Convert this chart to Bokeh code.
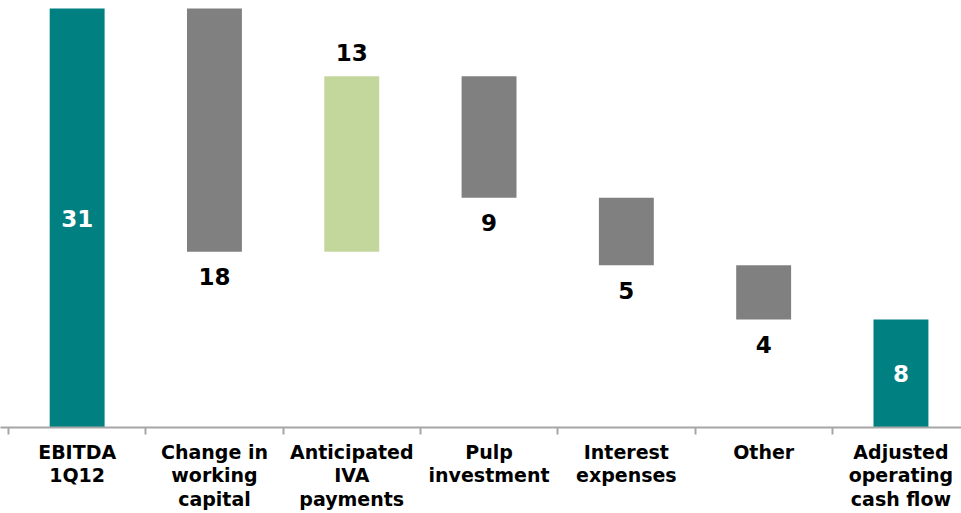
from bokeh.plotting import figure
from bokeh.models import Range1d, FixedTicker, ColumnDataSource
from bokeh.core.properties import value
from bokeh.embed import file_html
from bokeh.resources import INLINE

# Bridge from EBITDA to adjusted operating cash flow
categories = [
    "EBITDA\n1Q12",
    "Change in\nworking\ncapital",
    "Anticipated\nIVA\npayments",
    "Pulp\ninvestment",
    "Interest\nexpenses",
    "Other",
    "Adjusted\noperating\ncash flow",
]
steps = [31, -18, 13, -9, -5, -4]
closing_total = 8
value_labels = ["31", "18", "13", "9", "5", "4", "8"]

TEAL = "#008080"
GREY = "#808080"
GREEN = "#C3D69B"

# Build floating bar extents from the running sum
bottoms, tops, colors = [], [], []
label_y, label_off, label_color = [], [], []
running = 0
for i, s in enumerate(steps):
    start, end = running, running + s
    running = end
    if i == 0:
        bottoms.append(0); tops.append(end); colors.append(TEAL)
        label_y.append(end / 2); label_off.append(0); label_color.append("white")
    elif s < 0:
        bottoms.append(end); tops.append(start); colors.append(GREY)
        label_y.append(end); label_off.append(25); label_color.append("black")
    else:
        bottoms.append(start); tops.append(end); colors.append(GREEN)
        label_y.append(end); label_off.append(-24); label_color.append("black")
bottoms.append(0); tops.append(closing_total); colors.append(TEAL)
label_y.append(closing_total / 2); label_off.append(0); label_color.append("white")

xs = [i + 0.5 for i in range(len(categories))]

bars = ColumnDataSource(dict(x=xs, bottom=bottoms, top=tops, color=colors))
labels = ColumnDataSource(dict(x=xs, y=label_y, text=value_labels,
                               off=label_off, color=label_color))

p = figure(width=961, height=513, output_backend="svg", toolbar_location=None,
           x_range=Range1d(-8 / 137.3, (961 - 8) / 137.3),
           y_range=Range1d(0, 31.6),
           y_axis_location=None,
           min_border_left=0, min_border_right=0, min_border_top=0, min_border_bottom=0)
p.outline_line_color = None
p.grid.visible = False
p.background_fill_color = "white"

p.vbar(x="x", bottom="bottom", top="top", width=0.4, fill_color="color",
       line_color=None, source=bars)

p.text(x="x", y="y", text="text", y_offset="off", text_color="color",
       text_align="center", text_baseline="middle",
       text_font=value("DejaVu Sans"), text_font_style="bold",
       text_font_size="23px", source=labels)

ax = p.xaxis[0]
ax.ticker = FixedTicker(ticks=xs, minor_ticks=list(range(len(categories) + 1)))
ax.major_label_overrides = {x: c for x, c in zip(xs, categories)}
ax.axis_line_color = "#A6A6A6"
ax.axis_line_width = 2
ax.major_tick_line_color = None
ax.major_tick_out = 0
ax.major_tick_in = 0
ax.minor_tick_line_color = "#A6A6A6"
ax.minor_tick_line_width = 2
ax.minor_tick_out = 7
ax.minor_tick_in = 0
ax.major_label_standoff = 6
ax.major_label_text_font = "DejaVu Sans"
ax.major_label_text_font_style = "bold"
ax.major_label_text_font_size = "19px"
ax.major_label_text_line_height = 1.08
ax.major_label_text_color = "black"

open("out.html", "w").write(file_html(p, INLINE))
